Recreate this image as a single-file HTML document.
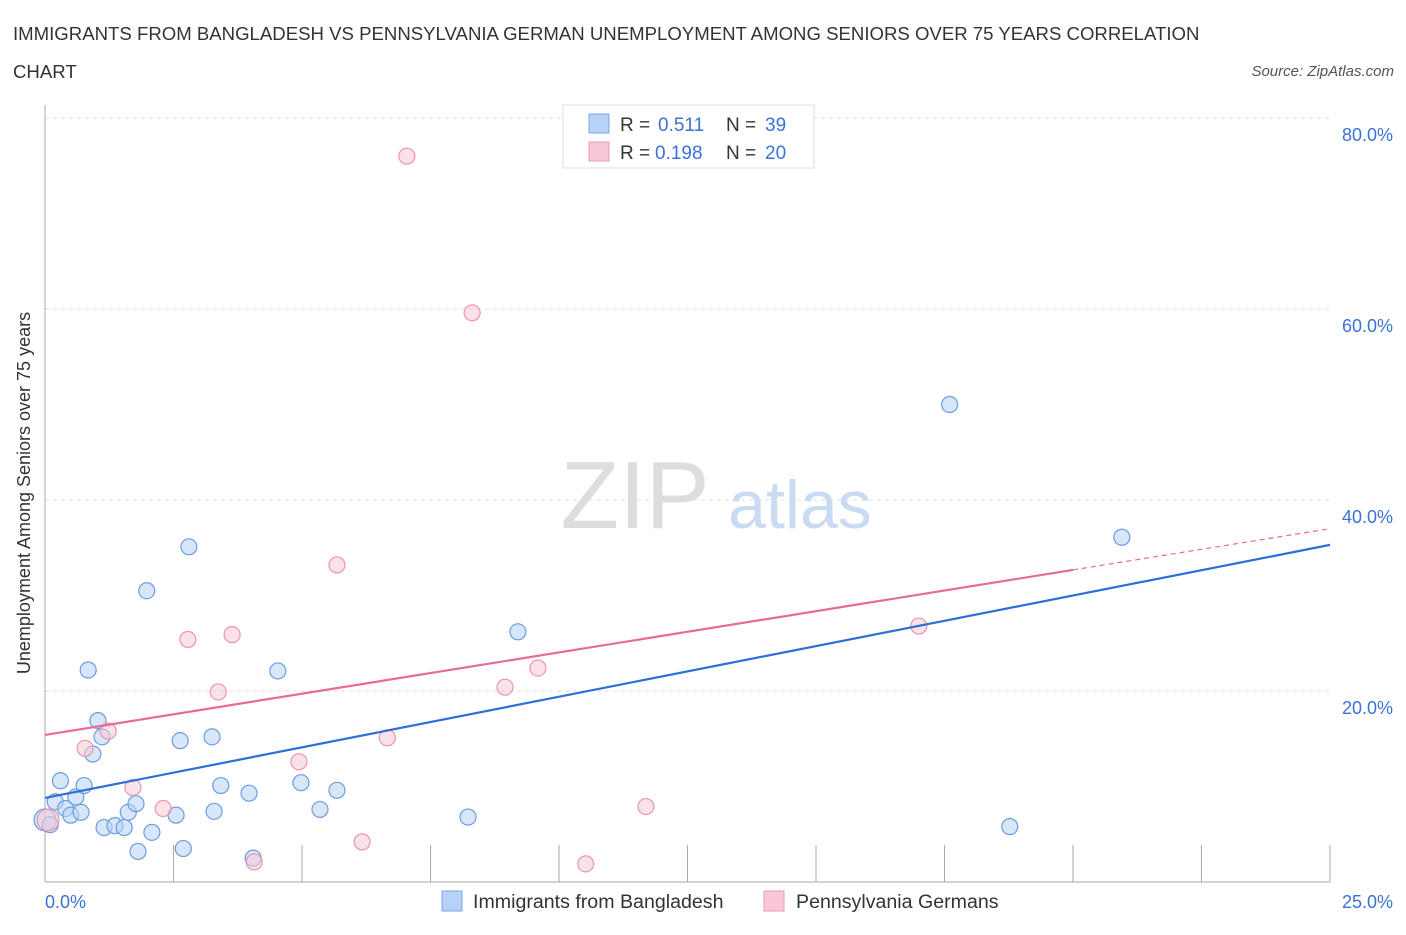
<!DOCTYPE html>
<html><head><meta charset="utf-8"><style>
body{margin:0;background:#fff;font-family:"Liberation Sans",sans-serif;}
svg text{font-family:"Liberation Sans",sans-serif;}
</style></head><body>
<svg id="chart" width="1406" height="930">
<text x="13" y="40" font-size="18.6" fill="#333">IMMIGRANTS FROM BANGLADESH VS PENNSYLVANIA GERMAN UNEMPLOYMENT AMONG SENIORS OVER 75 YEARS CORRELATION</text>
<text x="13" y="78" font-size="18.6" fill="#333">CHART</text>
<text x="1394" y="76" font-size="15" fill="#555" font-style="italic" text-anchor="end">Source: ZipAtlas.com</text>
<text x="30" y="493" font-size="18" fill="#333" text-anchor="middle" transform="rotate(-90 30 493)">Unemployment Among Seniors over 75 years</text>
<text x="635" y="528" font-size="96" fill="#ddd" font-family="Liberation Serif" text-anchor="middle">ZIP</text>
<text x="800" y="528" font-size="68" fill="#c9daf3" text-anchor="middle">atlas</text>
<g id="grid"></g><g id="marks"></g>
<g>
<rect x="563" y="105" width="251" height="63" fill="#fff" stroke="#ddd"/>
<rect x="589" y="114" width="20" height="19" fill="#b8d2f5" stroke="#7aa7e6"/>
<text x="620" y="131" font-size="19" fill="#333">R =</text>
<text x="658" y="131" font-size="19" fill="#3a72d8">0.511</text>
<text x="726" y="131" font-size="19" fill="#333">N =</text>
<text x="765" y="131" font-size="19" fill="#3a72d8">39</text>
<rect x="589" y="142" width="20" height="19" fill="#f8c8d6" stroke="#ee9ab2"/>
<text x="620" y="159" font-size="19" fill="#333">R =</text>
<text x="655" y="159" font-size="19" fill="#3a72d8">0.198</text>
<text x="726" y="159" font-size="19" fill="#333">N =</text>
<text x="765" y="159" font-size="19" fill="#3a72d8">20</text>
</g>
<g>
<rect x="442" y="891" width="20" height="20" fill="#b8d2f5" stroke="#7aa7e6"/>
<text x="473" y="908" font-size="19.6" fill="#333">Immigrants from Bangladesh</text>
<rect x="764" y="891" width="20" height="20" fill="#f8c8d6" stroke="#ee9ab2"/>
<text x="796" y="908" font-size="19.6" fill="#333">Pennsylvania Germans</text>
</g>
<text x="45" y="908" font-size="18" fill="#3a72d8">0.0%</text>
<text x="1393" y="908" font-size="18" fill="#3a72d8" text-anchor="end">25.0%</text>
</svg>
<script>
const blueX=[0,0.1,0.2,0.3,0.4,0.5,0.6,0.7,0.76,0.84,0.93,1.03,1.11,1.15,1.36,1.54,1.62,1.77,1.81,1.98,2.08,2.55,2.63,2.69,2.8,3.25,3.29,3.42,3.97,4.05,4.53,4.98,5.35,5.68,8.23,9.2,17.6,18.77,20.95];
const blueY=[6.5,6.0,8.4,10.6,7.7,7.0,8.9,7.3,10.1,22.2,13.4,16.9,15.2,5.7,5.9,5.7,7.3,8.2,3.2,30.5,5.2,7.0,14.8,3.5,35.1,15.2,7.4,10.1,9.3,2.5,22.1,10.4,7.6,9.6,6.8,26.2,50.0,5.8,36.1];
const pinkX=[0.06,0.78,1.23,1.71,2.3,2.78,3.37,3.64,4.07,4.94,5.68,6.17,6.66,7.04,8.31,8.95,9.59,10.52,11.69,17.0];
const pinkY=[6.5,14.0,15.8,9.9,7.7,25.4,19.9,25.9,2.1,12.6,33.2,4.2,15.1,76.0,59.6,20.4,22.4,1.9,7.9,26.8];
const blueTrend=[8.8,35.3];
const pinkTrend=[15.4,37.0];
const yTicks=[20,40,60,80];
const yTickLabels=["20.0%","40.0%","60.0%","80.0%"];
const xTicks=[0,2.5,5,7.5,10,12.5,15,17.5,20,22.5,25];
const NS="http://www.w3.org/2000/svg";
const xs=v=>45+v/25*1285, ys=v=>882-v/20*191;
const grid=document.getElementById('grid'), marks=document.getElementById('marks');
function mk(tag,attrs,parent){const e=document.createElementNS(NS,tag);for(const k in attrs)e.setAttribute(k,attrs[k]);parent.appendChild(e);return e;}
yTicks.forEach((t,i)=>{
 const l=mk('line',{x1:45,x2:1330,y1:ys(t),y2:ys(t),stroke:'#ddd','stroke-dasharray':'4,4'},grid);
 
 
 const tx=mk('text',{x:1393,y:ys(t)+23,'font-size':18,fill:'#3a72d8','text-anchor':'end'},grid);
 tx.textContent=yTickLabels[i];
 
 
});
const ax=mk('line',{x1:45,x2:45,y1:105,y2:882,stroke:'#aaa'},grid);


const bx=mk('line',{x1:45,x2:1330,y1:882,y2:882,stroke:'#aaa'},grid);


xTicks.forEach(t=>{
 const l=mk('line',{x1:xs(t),x2:xs(t),y1:845,y2:882,stroke:'#aaa'},grid);
 
 
});
function dots(X,Y,fill,stroke,name){X.forEach((x,i)=>{
 const c=mk('circle',{cx:xs(x),cy:ys(Y[i]),r:(i==0?11:8),fill:fill,'fill-opacity':0.55,stroke:stroke,'stroke-width':1.2},marks);
 
 
});}
dots(blueX,blueY,'#b8d2f5','#6a9de0','blue-point');
dots(pinkX,pinkY,'#f8c8d6','#eb95ad','pink-point');
const bl=mk('line',{x1:xs(0),y1:ys(blueTrend[0]),x2:xs(25),y2:ys(blueTrend[1]),stroke:'#2d6fd6','stroke-width':2.2},marks);


const pAt=x=>pinkTrend[0]+(pinkTrend[1]-pinkTrend[0])*x/25;
const ps=mk('line',{x1:xs(0),y1:ys(pAt(0)),x2:xs(20),y2:ys(pAt(20)),stroke:'#e8699a','stroke-width':2.2},marks);


const pd=mk('line',{x1:xs(20),y1:ys(pAt(20)),x2:xs(25),y2:ys(pAt(25)),stroke:'#e8699a','stroke-width':1.2,'stroke-dasharray':'5,4'},marks);


</script>
</body></html>
